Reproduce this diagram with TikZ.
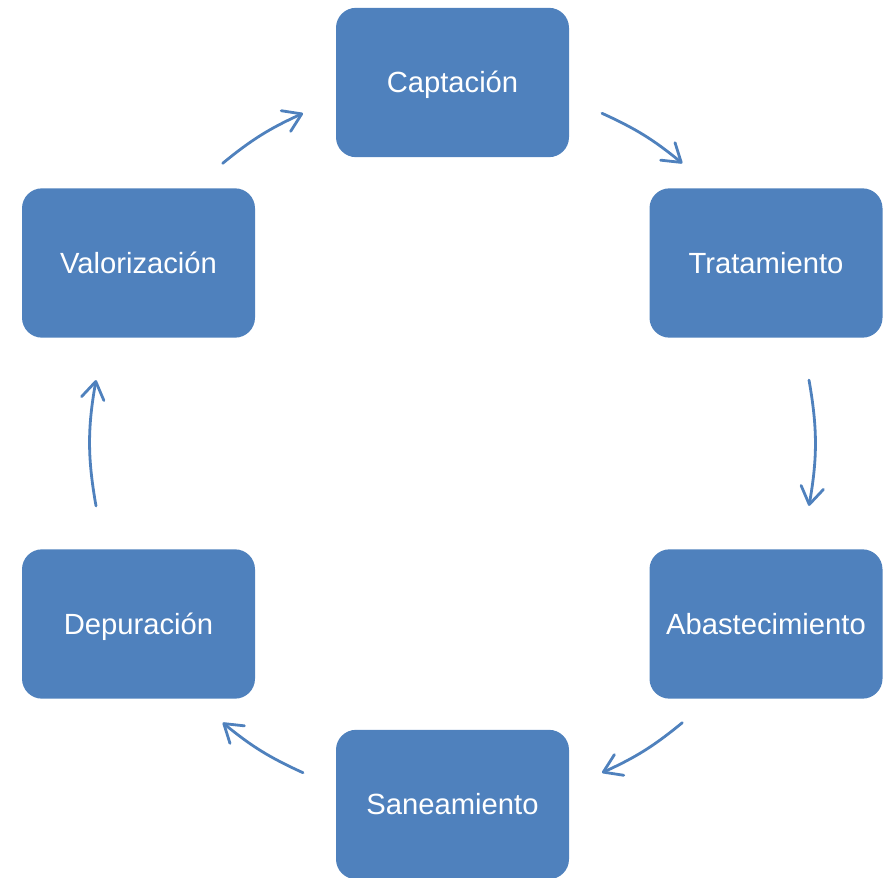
\documentclass[tikz,border=0pt]{standalone}
\usepackage{fontspec}
\setmainfont{Liberation Sans}
\usetikzlibrary{arrows.meta}
\definecolor{boxblue}{HTML}{4F81BD}
\begin{document}
\begin{tikzpicture}[x=0.75pt,y=-0.75pt,
  stagebox/.style={draw=none, fill=boxblue, rounded corners=15pt,
    minimum width=174.75pt, minimum height=112pt, inner sep=0pt,
    text height=19.6pt, text depth=4.6pt,
    text=white, font=\fontsize{21.9pt}{26pt}\selectfont},
  cyclearrow/.style={draw=boxblue, line width=2.1pt, line cap=round,
    -{Straight Barb[length=13pt,width=17pt,round]}, bend left=#1}]
\useasboundingbox (0,0) rectangle (889,878);
\node[stagebox] (cap) at (452.5,82.5) {Captación};
\node[stagebox] (tra) at (766,263) {Tratamiento};
\node[stagebox] (aba) at (766,624) {Abastecimiento};
\node[stagebox] (san) at (452.5,804.5) {Saneamiento};
\node[stagebox] (dep) at (138.5,624) {Depuración};
\node[stagebox] (val) at (138.5,263) {Valorización};
\coordinate (a1s) at (602.0,113.3);
\coordinate (a1e) at (682.3,163.3);
\coordinate (a2s) at (809.0,380.1);
\coordinate (a2e) at (809.0,505.9);
\coordinate (a3s) at (682.3,722.7);
\coordinate (a3e) at (602.0,772.7);
\coordinate (a4s) at (303.0,772.7);
\coordinate (a4e) at (222.7,722.7);
\coordinate (a5s) at (96.0,505.9);
\coordinate (a5e) at (96.0,380.1);
\coordinate (a6s) at (222.7,163.3);
\coordinate (a6e) at (303.0,113.3);
\draw[cyclearrow=7.5] (a1s) to (a1e);
\draw[cyclearrow=10] (a2s) to (a2e);
\draw[cyclearrow=7.5] (a3s) to (a3e);
\draw[cyclearrow=7.5] (a4s) to (a4e);
\draw[cyclearrow=10] (a5s) to (a5e);
\draw[cyclearrow=7.5] (a6s) to (a6e);
\end{tikzpicture}
\end{document}
